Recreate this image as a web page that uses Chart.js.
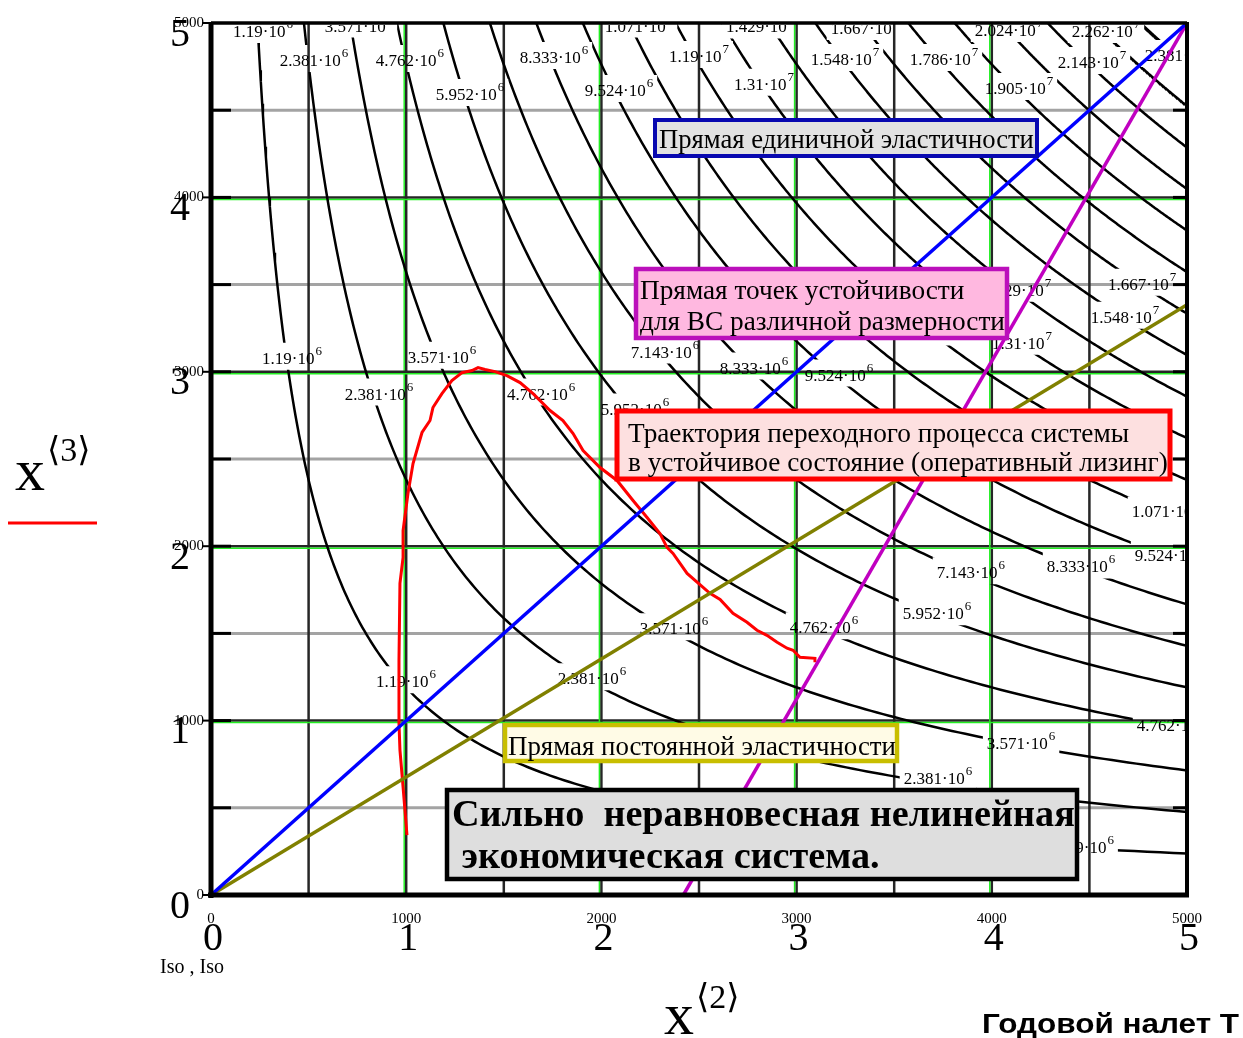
<!DOCTYPE html>
<html>
<head>
<meta charset="utf-8">
<script src="https://cdn.jsdelivr.net/npm/chart.js@4.4.1/dist/chart.umd.min.js"></script>
<style>
  html, body { margin: 0; padding: 0; background: #fff; overflow: hidden; }
  canvas { display: block; }
</style>
</head>
<body>
<canvas id="chart" width="1243" height="1038"></canvas>
<script>
// Iso-levels of the surface x2 * x3 (one contour per level)
const isoLevels = [1.19e6, 2.381e6, 3.571e6, 4.762e6, 5.952e6, 7.143e6, 8.333e6, 9.524e6,
  1.071e7, 1.19e7, 1.31e7, 1.429e7, 1.548e7, 1.667e7, 1.786e7, 1.905e7, 2.024e7, 2.143e7, 2.262e7, 2.381e7];

// Where each contour carries its value label: [level index, x2, x3]
const isoLabelSpots = [
  [0, 266, 4954], [2, 758, 4985], [8, 2193, 4985], [11, 2813, 4980], [13, 3350, 4971], [16, 4088, 4960], [18, 4585, 4954],
  [1, 528, 4788], [3, 1019, 4788], [4, 1327, 4593], [6, 1757, 4805], [7, 2090, 4616], [9, 2500, 4811], [10, 2833, 4651],
  [12, 3248, 4794], [14, 3755, 4794], [15, 4139, 4628], [17, 4513, 4777], [19, 4959, 4817],
  [0, 415, 3081], [2, 1183, 3087], [1, 861, 2875], [3, 1691, 2875], [5, 2326, 3116], [6, 2782, 3024], [7, 3217, 2984],
  [4, 2172, 2789], [9, 3760, 3219], [11, 4129, 3471], [10, 4155, 3167], [13, 4770, 3505], [12, 4682, 3316],
  [8, 4892, 2199], [7, 4908, 1947], [6, 4457, 1884], [5, 3893, 1850], [4, 3719, 1615], [3, 3140, 1535], [2, 2372, 1529],
  [1, 1952, 1243], [0, 999, 1226], [3, 4918, 974], [2, 4150, 871], [1, 3724, 670], [0, 4472, 275]
];

// Transition trajectory of the system (operating leasing)
const trajX2 = [1004, 984, 968, 963, 963, 968, 984, 984, 1009, 1035, 1081, 1122, 1137, 1183, 1234, 1286, 1337, 1368, 1404,
  1455, 1516, 1583, 1650, 1737, 1803, 1855, 1906, 1993, 2080, 2162, 2234, 2300, 2336, 2367, 2439, 2556, 2608, 2674,
  2746, 2797, 2848, 2900, 2951, 2982, 3017, 3094, 3094];
const trajX3 = [344, 619, 831, 985, 1346, 1787, 1936, 2090, 2302, 2474, 2652, 2721, 2795, 2875, 2950, 2995, 3007, 3024, 3013,
  3001, 2978, 2938, 2875, 2778, 2721, 2646, 2549, 2451, 2377, 2262, 2165, 2073, 1993, 1959, 1844, 1730, 1695, 1615,
  1564, 1518, 1489, 1449, 1415, 1403, 1363, 1357, 1334];

// Straight reference lines: [x2 start, x2 end], [x3 start, x3 end]
const unitElasticX2 = [0, 5000], unitElasticX3 = [0, 5000];
const constElasticX2 = [0, 5000], constElasticX3 = [0, 3385];
const stabilityX2 = [2420, 5000], stabilityX3 = [0, 5000];

// Axis ticks
const axisTicks = [0, 1000, 2000, 3000, 4000, 5000];
const axisBigLabels = ['0', '1', '2', '3', '4', '5'];
const gridStep = 500;

const SERIF = '"Liberation Serif", "Times New Roman", serif';
const SERIF_SYM = '"Liberation Serif", "DejaVu Serif", "DejaVu Sans", serif';
const SANS = '"Liberation Sans", Arial, sans-serif';

function pairs(xs, ys) { return xs.map((x, i) => ({ x, y: ys[i] })); }

function isoCurve(level) {
  const x0 = level / 5000, n = 220, pts = [];
  for (let i = 0; i < n; i++) {
    const x = x0 * Math.pow(5000 / x0, i / (n - 1));
    pts.push({ x, y: level / x });
  }
  return pts;
}

function labelParts(v) {
  const e = Math.floor(Math.log10(v) + 1e-9);
  const m = parseFloat((v / Math.pow(10, e)).toPrecision(4));
  return [m + '\u00B710', String(e)];
}

const MAIN_FONT = '17px ' + SERIF, SUP_FONT = '13px ' + SERIF;

function labelGeometry(ctx, chart, spot) {
  const [k, xv, yv] = spot;
  const [main, sup] = labelParts(isoLevels[k]);
  ctx.font = MAIN_FONT; const wm = ctx.measureText(main).width;
  ctx.font = SUP_FONT; const ws = ctx.measureText(sup).width;
  const cx = chart.scales.x.getPixelForValue(xv), cy = chart.scales.y.getPixelForValue(yv);
  const w = wm + ws + 1;
  return { main, sup, wm, x: cx - w / 2, cy, w };
}

const datasets = [];
isoLevels.forEach((lv) => datasets.push({
  data: isoCurve(lv), showLine: true, borderColor: '#000', borderWidth: 2.5,
  pointRadius: 0, tension: 0, order: 5, isContour: true
}));
datasets.push({ data: pairs(unitElasticX2, unitElasticX3), showLine: true, borderColor: '#0000ff', borderWidth: 3.5, pointRadius: 0, order: 1 });
datasets.push({ data: pairs(constElasticX2, constElasticX3), showLine: true, borderColor: '#808000', borderWidth: 3.5, pointRadius: 0, order: 1 });
datasets.push({ data: pairs(stabilityX2, stabilityX3), showLine: true, borderColor: '#c000c0', borderWidth: 3.5, pointRadius: 0, order: 1 });
datasets.push({ data: pairs(trajX2, trajX3), showLine: true, borderColor: '#ff0000', borderWidth: 3, pointRadius: 0, tension: 0, order: 1 });

function seg(ctx, x1, y1, x2, y2, color, w) {
  ctx.strokeStyle = color; ctx.lineWidth = w;
  ctx.beginPath(); ctx.moveTo(x1, y1); ctx.lineTo(x2, y2); ctx.stroke();
}

// text squeezed or stretched horizontally to a given span
function fitText(ctx, text, x, y, span) {
  const w = ctx.measureText(text).width;
  ctx.save();
  ctx.translate(x, y);
  ctx.scale(span / w, 1);
  ctx.fillText(text, 0, 0);
  ctx.restore();
}

const framePlugin = {
  id: 'mathcadFrame',
  beforeDatasetsDraw(chart) {
    const { ctx, chartArea: a, scales: { x, y } } = chart;
    ctx.save();
    for (let v = gridStep; v < 5000; v += gridStep) {
      const py = y.getPixelForValue(v);
      if (v % 1000) seg(ctx, a.left, py, a.right, py, '#a3a3a3', 3);
    }
    for (let v = gridStep; v < 5000; v += gridStep) {
      const px = x.getPixelForValue(v);
      seg(ctx, px, a.top, px, a.bottom, '#262626', 2.5);
    }
    for (let v = 1000; v < 5000; v += 1000) {
      const py = y.getPixelForValue(v);
      seg(ctx, a.left, py, a.right, py, '#262626', 2.5);
      seg(ctx, a.left, py + 2, a.right, py + 2, '#22ee22', 1.5);
      const px = x.getPixelForValue(v);
      seg(ctx, px - 2, a.top, px - 2, a.bottom, '#22ee22', 1.5);
    }
    ctx.restore();
  },
  beforeDatasetDraw(chart, args) {
    const ds = chart.data.datasets[args.index];
    if (!ds.isContour) return;
    const { ctx, chartArea: a } = chart;
    ctx.save();
    ctx.beginPath();
    ctx.rect(a.left, a.top, a.right - a.left, a.bottom - a.top);
    isoLabelSpots.forEach(s => {
      const g = labelGeometry(ctx, chart, s);
      ctx.rect(g.x - 4, g.cy - 15, g.w + 8, 27);
    });
    ctx.clip('evenodd');
  },
  afterDatasetDraw(chart, args) {
    const ds = chart.data.datasets[args.index];
    if (!ds.isContour) return;
    const { ctx, chartArea: a } = chart;
    ctx.restore();
    if (args.index !== 0) return;
    ctx.save();
    ctx.beginPath();
    ctx.rect(a.left + 2, a.top + 2, a.right - a.left - 4, a.bottom - a.top - 4);
    ctx.clip();
    ctx.fillStyle = '#000';
    ctx.textAlign = 'left';
    ctx.textBaseline = 'alphabetic';
    isoLabelSpots.forEach(s => {
      const g = labelGeometry(ctx, chart, s);
      ctx.font = MAIN_FONT; ctx.fillText(g.main, g.x, g.cy + 6);
      ctx.font = SUP_FONT; ctx.fillText(g.sup, g.x + g.wm + 1, g.cy - 3);
    });
    ctx.restore();
  },
  afterDatasetsDraw(chart) {
    const { ctx, chartArea: a, scales: { y } } = chart;
    ctx.save();
    ctx.lineCap = 'butt';
    // plot frame
    seg(ctx, a.left, a.top - 1, a.left, a.bottom + 3, '#000', 5);
    seg(ctx, a.left - 3, a.bottom, a.right + 2, a.bottom, '#000', 5);
    seg(ctx, a.left, a.top, a.right, a.top, '#000', 3.5);
    seg(ctx, a.right, a.top - 1, a.right, a.bottom + 2, '#000', 4);
    // tick marks
    for (let v = gridStep; v < 5000; v += gridStep) {
      const py = y.getPixelForValue(v);
      seg(ctx, a.left, py, a.left + 20, py, '#000', 3);
      seg(ctx, a.right - 14, py, a.right, py, '#000', 3);
    }
    axisTicks.forEach(v => {
      const py = y.getPixelForValue(v);
      seg(ctx, a.left - 9, py, a.left, py, '#000', 2);
    });
    ctx.restore();
  },
  afterDraw(chart) {
    const { ctx, chartArea: a, scales: { x, y } } = chart;
    ctx.save();
    ctx.fillStyle = '#000';
    // tick labels: small values and big unit digits
    axisTicks.forEach((v, i) => {
      const py = y.getPixelForValue(v), px = x.getPixelForValue(v);
      ctx.font = '15px ' + SERIF; ctx.textBaseline = 'middle';
      ctx.textAlign = 'right'; ctx.fillText(String(v), a.left - 7, py);
      ctx.textAlign = 'center'; ctx.fillText(String(v), px, a.bottom + 24);
      ctx.font = '40px ' + SERIF;
      ctx.fillText(axisBigLabels[i], 180, py + 12);
      ctx.fillText(axisBigLabels[i], px + 2, a.bottom + 44);
    });
    ctx.textBaseline = 'alphabetic';
    ctx.textAlign = 'center';
    ctx.font = '20px ' + SERIF;
    ctx.fillText('Iso , Iso', 192, 973);

    // axis names
    ctx.textAlign = 'left';
    ctx.font = '60px ' + SERIF; ctx.fillText('x', 664, 1034);
    ctx.font = '34px ' + SERIF_SYM; ctx.fillText('\u27E82\u27E9', 696, 1008);
    ctx.font = '60px ' + SERIF; ctx.fillText('x', 15, 490);
    ctx.font = '34px ' + SERIF_SYM; ctx.fillText('\u27E83\u27E9', 47, 461);
    seg(ctx, 8, 523, 97, 523, '#ff0000', 3);

    ctx.font = 'bold 28px ' + SANS;
    fitText(ctx, 'Годовой налет Т', 982, 1033, 257);

    // annotation boxes
    const boxes = [
      { x: 655, y: 120, w: 382, h: 36, stroke: '#0808b0', fill: '#e2e2e2', lw: 4,
        lines: ['Прямая единичной эластичности'], tx: 659, base: [148], target: 375, font: '', size: 24 },
      { x: 636, y: 269, w: 371, h: 69, stroke: '#bb10bb', fill: '#ffb8e0', lw: 4.5,
        lines: ['Прямая точек устойчивости', 'для ВС различной размерности'], tx: 640, base: [299, 330], target: 365, font: '', size: 25 },
      { x: 617, y: 411, w: 553, h: 68, stroke: '#ff0000', fill: '#fde0e0', lw: 5,
        lines: ['Траектория переходного процесса системы', 'в устойчивое состояние (оперативный лизинг)'], tx: 628, base: [442, 471], target: 540, font: '', size: 24 },
      { x: 505, y: 725, w: 392, h: 36, stroke: '#c8be00', fill: '#fffbe6', lw: 4.5,
        lines: ['Прямая постоянной эластичности'], tx: 508, base: [755], target: 388, font: '', size: 24 },
      { x: 447, y: 790, w: 630, h: 89, stroke: '#000000', fill: '#dedede', lw: 4.5,
        lines: ['Сильно  неравновесная нелинейная', ' экономическая система.'], tx: 452, base: [826, 868], target: 623, font: 'bold ', size: 34 }
    ];
    boxes.forEach(b => {
      ctx.fillStyle = b.fill;
      ctx.fillRect(b.x, b.y, b.w, b.h);
      ctx.strokeStyle = b.stroke; ctx.lineWidth = b.lw;
      ctx.strokeRect(b.x, b.y, b.w, b.h);
      // fit the widest line to its span
      ctx.font = b.font + b.size + 'px ' + SERIF;
      const widest = Math.max(...b.lines.map(t => ctx.measureText(t).width));
      const size = b.size * b.target / widest;
      ctx.font = b.font + size.toFixed(2) + 'px ' + SERIF;
      ctx.fillStyle = '#000';
      b.lines.forEach((t, i) => ctx.fillText(t, b.tx, b.base[i]));
    });
    ctx.restore();
  }
};

new Chart(document.getElementById('chart'), {
  type: 'scatter',
  data: { datasets },
  options: {
    responsive: false,
    animation: false,
    devicePixelRatio: 1,
    layout: { padding: { left: 211, right: 56, top: 23, bottom: 143 } },
    scales: {
      x: { type: 'linear', min: 0, max: 5000, display: false },
      y: { type: 'linear', min: 0, max: 5000, display: false }
    },
    plugins: { legend: { display: false }, tooltip: { enabled: false } },
    elements: { line: { tension: 0 } }
  },
  plugins: [framePlugin]
});
</script>
</body>
</html>
